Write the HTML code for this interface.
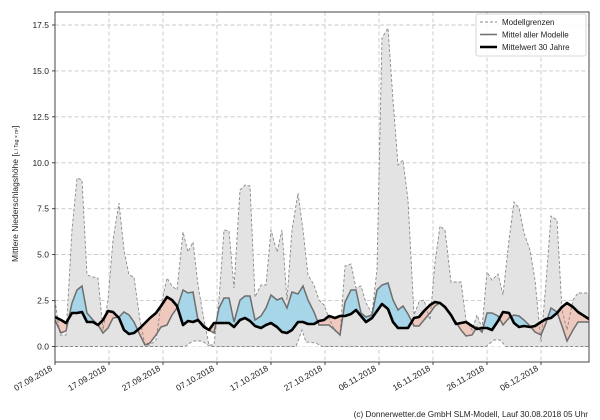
<!DOCTYPE html>
<html><head><meta charset="utf-8"><style>
body{margin:0;background:#fff}
svg{display:block;font-family:"Liberation Sans","DejaVu Sans",sans-serif}
</style></head><body>
<svg width="600" height="420" viewBox="0 0 600 420" xmlns="http://www.w3.org/2000/svg">
<defs>
<clipPath id="plot"><rect x="55" y="12" width="534" height="350"/></clipPath>
<clipPath id="above"><path d="M55,317 L61,320 L66,323 L72,313 L77,313 L82,312 L87,322 L93,322 L98,325 L103,320 L108,311 L113,312 L119,318 L124,330 L129,334 L134,333 L140,328 L145,323 L150,318 L156,313 L161,306 L167,297 L172,300 L177,306 L183,325 L188,321 L193,322 L198,320 L204,327 L209,330 L214,323 L219,323 L224,323 L229,323 L234,327 L240,320 L245,318 L250,321 L255,326 L261,328 L266,325 L271,323 L277,327 L282,332 L287,333 L292,330 L298,322 L303,322 L308,324 L314,324 L319,321 L324,320 L329,316 L335,318 L340,316 L345,316 L351,314 L356,310 L361,316 L366,322 L372,318 L377,311 L382,304 L388,309 L393,322 L398,328 L403,328 L408,328 L414,318 L419,317 L424,311 L430,305 L435,302 L440,303 L445,307 L451,315 L456,324 L461,323 L466,322 L472,326 L477,329 L482,328 L487,328 L492,330 L498,321 L503,312 L509,313 L514,323 L519,327 L524,326 L530,327 L535,326 L541,322 L546,319 L551,318 L557,313 L562,307 L567,303 L573,307 L578,312 L589,319 L589,0 L55,0 Z"/></clipPath>
<clipPath id="below"><path d="M55,317 L61,320 L66,323 L72,313 L77,313 L82,312 L87,322 L93,322 L98,325 L103,320 L108,311 L113,312 L119,318 L124,330 L129,334 L134,333 L140,328 L145,323 L150,318 L156,313 L161,306 L167,297 L172,300 L177,306 L183,325 L188,321 L193,322 L198,320 L204,327 L209,330 L214,323 L219,323 L224,323 L229,323 L234,327 L240,320 L245,318 L250,321 L255,326 L261,328 L266,325 L271,323 L277,327 L282,332 L287,333 L292,330 L298,322 L303,322 L308,324 L314,324 L319,321 L324,320 L329,316 L335,318 L340,316 L345,316 L351,314 L356,310 L361,316 L366,322 L372,318 L377,311 L382,304 L388,309 L393,322 L398,328 L403,328 L408,328 L414,318 L419,317 L424,311 L430,305 L435,302 L440,303 L445,307 L451,315 L456,324 L461,323 L466,322 L472,326 L477,329 L482,328 L487,328 L492,330 L498,321 L503,312 L509,313 L514,323 L519,327 L524,326 L530,327 L535,326 L541,322 L546,319 L551,318 L557,313 L562,307 L567,303 L573,307 L578,312 L589,319 L589,420 L55,420 Z"/></clipPath>
</defs>

<!-- grid -->
<g stroke="#c8c8c8" stroke-width="0.9" stroke-dasharray="4,2.5">
<line x1="55" x2="589" y1="346.5" y2="346.5"/><line x1="55" x2="589" y1="300.6" y2="300.6"/>
<line x1="55" x2="589" y1="254.6" y2="254.6"/><line x1="55" x2="589" y1="208.7" y2="208.7"/>
<line x1="55" x2="589" y1="162.8" y2="162.8"/><line x1="55" x2="589" y1="116.8" y2="116.8"/>
<line x1="55" x2="589" y1="70.9" y2="70.9"/><line x1="55" x2="589" y1="25" y2="25"/>
<line y1="12" y2="362" x1="109" x2="109"/><line y1="12" y2="362" x1="163" x2="163"/>
<line y1="12" y2="362" x1="217" x2="217"/><line y1="12" y2="362" x1="271" x2="271"/>
<line y1="12" y2="362" x1="325" x2="325"/><line y1="12" y2="362" x1="379" x2="379"/>
<line y1="12" y2="362" x1="433" x2="433"/><line y1="12" y2="362" x1="487" x2="487"/>
<line y1="12" y2="362" x1="541" x2="541"/>
</g>

<g clip-path="url(#plot)">
<!-- gray band -->
<path fill="#e1e1e1" fill-opacity="0.95" d="M55,300 L60,335 L66,335 L72,230 L77,178 L82,180 L87,275 L93,277 L98,278 L103,330 L108,300 L113,240 L119,203 L124,250 L129,275 L134,277 L140,320 L145,345 L150,345 L156,340 L161,305 L167,278 L172,286 L177,290 L183,232 L188,252 L193,242 L198,285 L204,320 L209,345 L214,345 L219,300 L224,230 L229,231 L234,288 L240,190 L245,185 L250,186 L255,297 L261,285 L266,285 L271,230 L277,252 L282,230 L287,300 L292,230 L298,193 L303,230 L308,275 L314,285 L319,300 L324,305 L329,318 L335,331 L340,335 L345,266 L351,264 L356,288 L361,286 L366,303 L372,313 L377,270 L382,38 L388,28 L393,100 L398,165 L403,160 L408,200 L414,315 L419,302 L424,300 L430,320 L435,263 L440,226 L445,230 L451,282 L456,282 L461,282 L466,320 L472,330 L477,315 L482,328 L487,272 L492,280 L498,274 L503,295 L509,240 L514,202 L519,208 L524,233 L530,250 L535,280 L541,342 L546,282 L551,216 L557,220 L562,310 L567,330 L573,300 L578,293 L589,293 L589,346.5 L55,346.5 Z"/>
<!-- white lower bumps -->
<path fill="#fff" d="M185,346.5 L193,341 L202,341 L210,346.5 Z M296,346.5 L302,330 L306,342 L316,343 L322,346.5 Z M486,346.5 L494,340 L500,340 L506,346.5 Z"/>
<!-- blue / pink -->
<path fill="#a6d6e8" clip-path="url(#above)" d="M55,320 L61,333 L66,331 L72,303 L77,290 L82,286 L87,313 L93,320 L98,325 L103,333 L108,328 L113,318 L119,317 L124,312 L129,315 L134,322 L140,335 L145,345 L150,343 L156,335 L161,327 L167,325 L172,315 L177,308 L183,290 L188,293 L193,292 L198,320 L204,325 L209,330 L214,333 L219,308 L224,298 L229,298 L234,322 L240,300 L245,296 L250,296 L255,320 L261,316 L266,308 L271,295 L277,300 L282,298 L287,308 L292,292 L298,294 L303,286 L308,300 L314,312 L319,325 L324,325 L329,325 L335,330 L340,335 L345,302 L351,290 L356,290 L361,313 L366,317 L372,315 L377,290 L382,285 L388,283 L393,300 L398,310 L403,306 L408,314 L414,326 L419,326 L424,320 L430,313 L435,306 L440,303 L445,308 L451,316 L456,322 L461,330 L466,336 L472,335 L477,327 L482,332 L487,313 L492,313 L498,316 L503,325 L509,318 L514,315 L519,316 L524,320 L530,326 L535,332 L541,335 L546,323 L551,308 L557,312 L562,326 L567,341 L573,330 L578,322 L589,322 L589,420 L55,420 Z"/>
<path fill="#f0c4b8" fill-opacity="0.9" clip-path="url(#below)" d="M55,320 L61,333 L66,331 L72,303 L77,290 L82,286 L87,313 L93,320 L98,325 L103,333 L108,328 L113,318 L119,317 L124,312 L129,315 L134,322 L140,335 L145,345 L150,343 L156,335 L161,327 L167,325 L172,315 L177,308 L183,290 L188,293 L193,292 L198,320 L204,325 L209,330 L214,333 L219,308 L224,298 L229,298 L234,322 L240,300 L245,296 L250,296 L255,320 L261,316 L266,308 L271,295 L277,300 L282,298 L287,308 L292,292 L298,294 L303,286 L308,300 L314,312 L319,325 L324,325 L329,325 L335,330 L340,335 L345,302 L351,290 L356,290 L361,313 L366,317 L372,315 L377,290 L382,285 L388,283 L393,300 L398,310 L403,306 L408,314 L414,326 L419,326 L424,320 L430,313 L435,306 L440,303 L445,308 L451,316 L456,322 L461,330 L466,336 L472,335 L477,327 L482,332 L487,313 L492,313 L498,316 L503,325 L509,318 L514,315 L519,316 L524,320 L530,326 L535,332 L541,335 L546,323 L551,308 L557,312 L562,326 L567,341 L573,330 L578,322 L589,322 L589,0 L55,0 Z"/>
<!-- upper dashed -->
<polyline fill="none" stroke="#8a8a8a" stroke-width="0.9" stroke-dasharray="3,2" points="55,300 60,335 66,335 72,230 77,178 82,180 87,275 93,277 98,278 103,330 108,300 113,240 119,203 124,250 129,275 134,277 140,320 145,345 150,345 156,340 161,305 167,278 172,286 177,290 183,232 188,252 193,242 198,285 204,320 209,345 214,345 219,300 224,230 229,231 234,288 240,190 245,185 250,186 255,297 261,285 266,285 271,230 277,252 282,230 287,300 292,230 298,193 303,230 308,275 314,285 319,300 324,305 329,318 335,331 340,335 345,266 351,264 356,288 361,286 366,303 372,313 377,270 382,38 388,28 393,100 398,165 403,160 408,200 414,315 419,302 424,300 430,320 435,263 440,226 445,230 451,282 456,282 461,282 466,320 472,330 477,315 482,328 487,272 492,280 498,274 503,295 509,240 514,202 519,208 524,233 530,250 535,280 541,342 546,282 551,216 557,220 562,310 567,330 573,300 578,293 589,293"/>
<polyline fill="none" stroke="#8a8a8a" stroke-width="0.9" stroke-dasharray="3,2" points="55,346.5 185,346.5 193,341 202,341 210,346.5 296,346.5 302,330 306,342 316,343 322,346.5 486,346.5 494,340 500,340 506,346.5 589,346.5"/>
<!-- model mean -->
<polyline fill="none" stroke="#6e6e6e" stroke-width="1.5" points="55,320 61,333 66,331 72,303 77,290 82,286 87,313 93,320 98,325 103,333 108,328 113,318 119,317 124,312 129,315 134,322 140,335 145,345 150,343 156,335 161,327 167,325 172,315 177,308 183,290 188,293 193,292 198,320 204,325 209,330 214,333 219,308 224,298 229,298 234,322 240,300 245,296 250,296 255,320 261,316 266,308 271,295 277,300 282,298 287,308 292,292 298,294 303,286 308,300 314,312 319,325 324,325 329,325 335,330 340,335 345,302 351,290 356,290 361,313 366,317 372,315 377,290 382,285 388,283 393,300 398,310 403,306 408,314 414,326 419,326 424,320 430,313 435,306 440,303 445,308 451,316 456,322 461,330 466,336 472,335 477,327 482,332 487,313 492,313 498,316 503,325 509,318 514,315 519,316 524,320 530,326 535,332 541,335 546,323 551,308 557,312 562,326 567,341 573,330 578,322 589,322"/>
<!-- 30 yr -->
<polyline fill="none" stroke="#000" stroke-width="2.6" stroke-linejoin="round" points="55,317 61,320 66,323 72,313 77,313 82,312 87,322 93,322 98,325 103,320 108,311 113,312 119,318 124,330 129,334 134,333 140,328 145,323 150,318 156,313 161,306 167,297 172,300 177,306 183,325 188,321 193,322 198,320 204,327 209,330 214,323 219,323 224,323 229,323 234,327 240,320 245,318 250,321 255,326 261,328 266,325 271,323 277,327 282,332 287,333 292,330 298,322 303,322 308,324 314,324 319,321 324,320 329,316 335,318 340,316 345,316 351,314 356,310 361,316 366,322 372,318 377,311 382,304 388,309 393,322 398,328 403,328 408,328 414,318 419,317 424,311 430,305 435,302 440,303 445,307 451,315 456,324 461,323 466,322 472,326 477,329 482,328 487,328 492,330 498,321 503,312 509,313 514,323 519,327 524,326 530,327 535,326 541,322 546,319 551,318 557,313 562,307 567,303 573,307 578,312 589,319"/>
</g>

<!-- frame -->
<rect x="55" y="12" width="534" height="350" fill="none" stroke="#333" stroke-width="0.9"/>
<g stroke="#333" stroke-width="0.9">
<line x1="52" x2="55" y1="346.5" y2="346.5"/><line x1="52" x2="55" y1="300.6" y2="300.6"/><line x1="52" x2="55" y1="254.6" y2="254.6"/><line x1="52" x2="55" y1="208.7" y2="208.7"/><line x1="52" x2="55" y1="162.8" y2="162.8"/><line x1="52" x2="55" y1="116.8" y2="116.8"/><line x1="52" x2="55" y1="70.9" y2="70.9"/><line x1="52" x2="55" y1="25" y2="25"/>
<line y1="362" y2="365" x1="55" x2="55"/><line y1="362" y2="365" x1="109" x2="109"/><line y1="362" y2="365" x1="163" x2="163"/><line y1="362" y2="365" x1="217" x2="217"/><line y1="362" y2="365" x1="271" x2="271"/><line y1="362" y2="365" x1="325" x2="325"/><line y1="362" y2="365" x1="379" x2="379"/><line y1="362" y2="365" x1="433" x2="433"/><line y1="362" y2="365" x1="487" x2="487"/><line y1="362" y2="365" x1="541" x2="541"/>
</g>
<g font-size="8.5" fill="#222" text-anchor="end">
<text x="49" y="349.5">0.0</text><text x="49" y="303.6">2.5</text><text x="49" y="257.6">5.0</text><text x="49" y="211.7">7.5</text><text x="49" y="165.8">10.0</text><text x="49" y="119.8">12.5</text><text x="49" y="73.9">15.0</text><text x="49" y="28">17.5</text>
</g>
<g font-size="8.5" fill="#222" text-anchor="end">
<text transform="translate(53,370) rotate(-30)">07.09.2018</text>
<text transform="translate(107,370) rotate(-30)">17.09.2018</text>
<text transform="translate(161,370) rotate(-30)">27.09.2018</text>
<text transform="translate(215,370) rotate(-30)">07.10.2018</text>
<text transform="translate(269,370) rotate(-30)">17.10.2018</text>
<text transform="translate(323,370) rotate(-30)">27.10.2018</text>
<text transform="translate(377,370) rotate(-30)">06.11.2018</text>
<text transform="translate(431,370) rotate(-30)">16.11.2018</text>
<text transform="translate(485,370) rotate(-30)">26.11.2018</text>
<text transform="translate(539,370) rotate(-30)">06.12.2018</text>
</g>
<text transform="translate(18,262) rotate(-90)" font-size="8.5" fill="#222">Mittlere Niederschlagshöhe [<tspan font-size="5">L / Tag × m²</tspan>]</text>
<!-- legend -->
<rect x="476" y="14" width="110" height="42" rx="2" fill="#fff" fill-opacity="0.9" stroke="#ccc" stroke-width="0.8"/>
<line x1="480" x2="497" y1="22" y2="22" stroke="#8a8a8a" stroke-dasharray="3,2"/>
<line x1="480" x2="497" y1="34.5" y2="34.5" stroke="#6e6e6e" stroke-width="1.5"/>
<line x1="480" x2="497" y1="47" y2="47" stroke="#000" stroke-width="2.6"/>
<g font-size="8" fill="#222"><text x="502" y="25">Modellgrenzen</text><text x="502" y="37.5">Mittel aller Modelle</text><text x="502" y="50">Mittelwert 30 Jahre</text></g>
<text x="588" y="417" font-size="8.2" fill="#222" text-anchor="end">(c) Donnerwetter.de GmbH SLM-Modell, Lauf 30.08.2018 05 Uhr</text>
</svg>
</body></html>
